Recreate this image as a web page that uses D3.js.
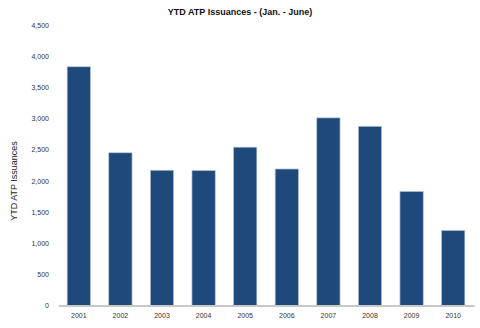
<!DOCTYPE html>
<html>
<head>
<meta charset="utf-8">
<script src="https://d3js.org/d3.v7.min.js"></script>
<style>
  body { margin: 0; background: #fff; }
  text { font-family: "Liberation Sans", Arial, sans-serif; }
</style>
</head>
<body>
<script>
// chart data
var years = ['2001', '2002', '2003', '2004', '2005', '2006', '2007', '2008', '2009', '2010'];
var issuances = [3830, 2450, 2170, 2165, 2540, 2190, 3010, 2875, 1830, 1205];
var yTicks = [0, 500, 1000, 1500, 2000, 2500, 3000, 3500, 4000, 4500];

var width = 480, height = 328;
var margin = {top: 25, right: 6, bottom: 22, left: 58};

var svg = d3.select('body').append('svg')
    .attr('width', width)
    .attr('height', height);

var x = d3.scaleBand()
    .domain(years)
    .range([margin.left, width - margin.right])
    .paddingInner(0.44)
    .paddingOuter(0.22);

var y = d3.scaleLinear()
    .domain([0, 4500])
    .range([height - margin.bottom - 0.5, margin.top]);

// title
svg.append('text')
    .attr('x', 240)
    .attr('y', 15)
    .attr('text-anchor', 'middle')
    .attr('font-size', 9)
    .attr('font-weight', 'bold')
    .attr('fill', '#111')
    .text('YTD ATP Issuances - (Jan. - June)');

// y axis (labels only)
var yAxis = d3.axisLeft(y)
    .tickValues(yTicks)
    .tickSize(0)
    .tickPadding(9)
    .tickFormat(d3.format(','));

svg.append('g')
    .attr('transform', 'translate(' + margin.left + ',0)')
    .call(yAxis)
    .call(function(g) { g.select('.domain').remove(); })
    .selectAll('text')
    .attr('font-size', 7)
    .attr('fill', '#333');

// y axis title
svg.append('text')
    .attr('transform', 'translate(17,181) rotate(-90)')
    .attr('text-anchor', 'middle')
    .attr('font-size', 9)
    .attr('fill', '#222')
    .text('YTD ATP Issuances');

// bars
svg.selectAll('rect.bar')
    .data(issuances)
    .enter().append('rect')
    .attr('class', 'bar')
    .attr('x', function(d, i) { return x(years[i]); })
    .attr('y', function(d) { return y(d); })
    .attr('width', x.bandwidth())
    .attr('height', function(d) { return y(0) - y(d); })
    .attr('fill', '#1f487b')
    .attr('stroke', '#b7c4d6')
    .attr('stroke-width', 0.7);

// x axis baseline + labels
var xAxis = d3.axisBottom(x).tickSize(0).tickPadding(8);

svg.append('g')
    .attr('transform', 'translate(0,' + y(0) + ')')
    .call(xAxis)
    .call(function(g) {
        g.select('.domain').attr('stroke', '#c8c8c8').attr('stroke-width', 2);
    })
    .selectAll('text')
    .attr('font-size', 7)
    .attr('fill', '#333');
</script>
</body>
</html>
